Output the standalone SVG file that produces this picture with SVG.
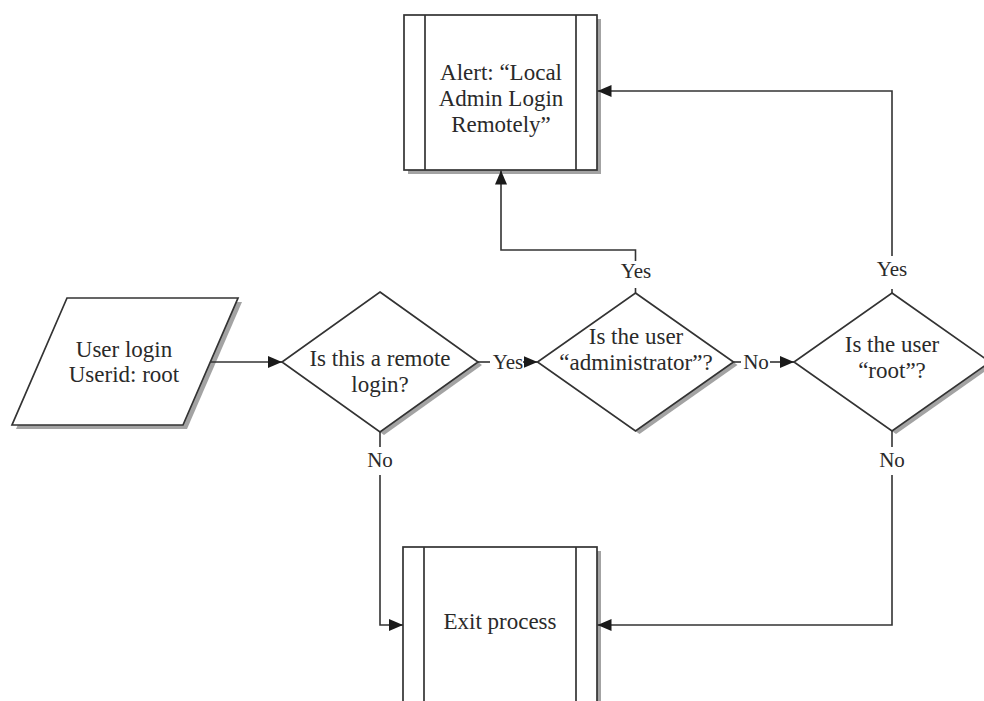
<svg xmlns="http://www.w3.org/2000/svg" width="984" height="701" viewBox="0 0 984 701">
  <style>
    .shape { fill: #ffffff; stroke: #333333; stroke-width: 1.7; }
    .shadow { fill: #a3a3a3; stroke: none; }
    .inner { stroke: #333333; stroke-width: 1.7; fill: none; }
    .line { stroke: #333333; stroke-width: 1.6; fill: none; }
    text { font-family: "Liberation Serif", "Times New Roman", serif; font-size: 23px; fill: #2a2a2a; text-anchor: middle; }
    .lbl { font-size: 21px; }
  </style>
  <defs>
    <marker id="arrow" markerUnits="userSpaceOnUse" markerWidth="15" markerHeight="12" refX="14" refY="6" orient="auto">
      <path d="M0,0 L14,6 L0,12 Z" fill="#1a1a1a"/>
    </marker>
  </defs>
  <rect width="984" height="701" fill="#ffffff"/>

  <g id="alert">
    <rect class="shadow" x="408" y="19" width="193" height="155"/>
    <rect class="shape" x="404" y="15" width="193" height="155"/>
    <line class="inner" x1="425" y1="15" x2="425" y2="170"/>
    <line class="inner" x1="576" y1="15" x2="576" y2="170"/>
    <text x="501" y="80">Alert: “Local</text>
    <text x="501" y="106">Admin Login</text>
    <text x="501" y="132">Remotely”</text>
  </g>

  <g id="userlogin">
    <polygon class="shadow" points="71,302 242,302 187,429 16,429"/>
    <polygon class="shape" points="67,298 238,298 183,425 12,425"/>
    <text x="124" y="357">User login</text>
    <text x="124" y="382">Userid: root</text>
  </g>

  <g id="remote">
    <polygon class="shadow" points="384,295 482,365 384,435 286,365"/>
    <polygon class="shape" points="380,292 478,362 380,432 282,362"/>
    <text x="380" y="366">Is this a remote</text>
    <text x="380" y="392">login?</text>
  </g>

  <g id="admin">
    <polygon class="shadow" points="639.5,296 737.5,365 639.5,434 541.5,365"/>
    <polygon class="shape" points="635.5,293 733.5,362 635.5,431 537.5,362"/>
    <text x="636" y="344">Is the user</text>
    <text x="636" y="370">“administrator”?</text>
  </g>

  <g id="root">
    <polygon class="shadow" points="896,296 994,365 896,434 798,365"/>
    <polygon class="shape" points="892,293 990,362 892,431 794,362"/>
    <text x="892" y="352">Is the user</text>
    <text x="892" y="378">“root”?</text>
  </g>

  <g id="exit">
    <rect class="shadow" x="407" y="551" width="194" height="170"/>
    <rect class="shape" x="403" y="547" width="194" height="170"/>
    <line class="inner" x1="424" y1="547" x2="424" y2="717"/>
    <line class="inner" x1="576" y1="547" x2="576" y2="717"/>
    <text x="500" y="629">Exit process</text>
  </g>

  <g id="connectors">
    <path class="line" d="M210,362 H282" marker-end="url(#arrow)"/>

    <path class="line" d="M478,362 H490"/>
    <text class="lbl" x="508" y="369">Yes</text>
    <path class="line" d="M523,362 H537.5" marker-end="url(#arrow)"/>

    <path class="line" d="M733.5,362 H741"/>
    <text class="lbl" x="756" y="369">No</text>
    <path class="line" d="M770,362 H794" marker-end="url(#arrow)"/>

    <path class="line" d="M635.5,293 V288"/>
    <text class="lbl" x="636" y="278">Yes</text>
    <path class="line" d="M635.5,261 V250 H501 V170.5" marker-end="url(#arrow)"/>

    <path class="line" d="M892,293 V289"/>
    <text class="lbl" x="892" y="276">Yes</text>
    <path class="line" d="M892,256 V91 H597.5" marker-end="url(#arrow)"/>

    <path class="line" d="M380,432 V447"/>
    <text class="lbl" x="380" y="467">No</text>
    <path class="line" d="M380,475 V625 H403" marker-end="url(#arrow)"/>

    <path class="line" d="M892,431 V447"/>
    <text class="lbl" x="892" y="467">No</text>
    <path class="line" d="M892,475 V625 H597.5" marker-end="url(#arrow)"/>
  </g>
</svg>
